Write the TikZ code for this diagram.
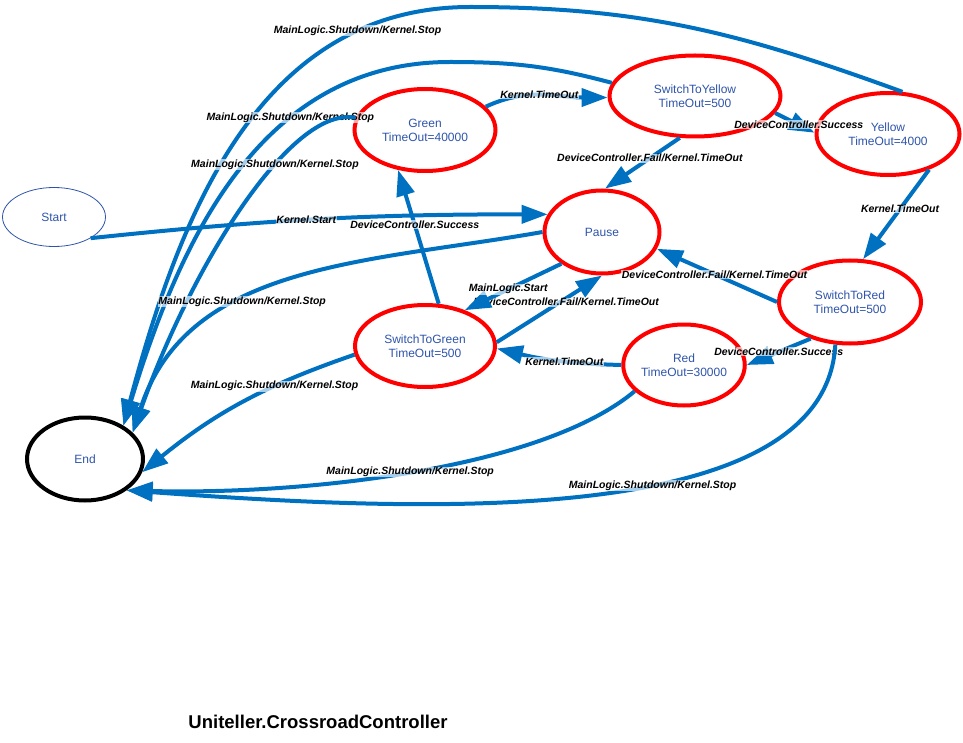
\documentclass[tikz,border=0pt]{standalone}
\usepackage{fontspec}
\setmainfont{Liberation Sans}
\usetikzlibrary{shapes.geometric,arrows.meta}
\definecolor{flecha}{RGB}{0,112,192}
\definecolor{texto}{RGB}{46,84,170}
\definecolor{borde}{RGB}{255,0,0}

\begin{document}
\begin{tikzpicture}[x=1pt, y=1pt,
  estado/.style={ellipse, draw=borde, line width=4pt, text=texto, align=center,
    inner sep=0pt, font=\fontsize{12}{14}\selectfont},
  trans/.style={draw=flecha, line width=4pt, -{Triangle[length=26pt,width=18pt]}},
  etiq/.style={font=\fontsize{10.5}{12}\selectfont\bfseries\itshape, fill=white,
    fill opacity=0.65, text opacity=1, inner sep=0.5pt}]
	\useasboundingbox (0,0) rectangle (963,-743);
	% Estados inicial y final
	\node[ellipse, draw=texto, line width=0.8pt, text=texto, inner sep=0pt,
	  minimum width=103pt, minimum height=59pt, font=\fontsize{12}{14}\selectfont]
	  (start) at (54,-217) {Start};
	\node[estado, draw=black, minimum width=116pt, minimum height=83pt] (finish) at (85,-459) {End};
	% Estados del semaforo
	\node[estado, minimum width=141pt, minimum height=82pt] (green) at (425,-130) {Green\\TimeOut=40000};
	\node[estado, minimum width=171pt, minimum height=81pt] (switchyellow) at (695,-96) {SwitchToYellow\\TimeOut=500};
	\node[estado, minimum width=143pt, minimum height=82pt] (yellow) at (888,-134) {Yellow\\TimeOut=4000};
	\node[estado, minimum width=115pt, minimum height=83pt] (pause) at (602,-232) {Pause};
	\node[estado, minimum width=142pt, minimum height=83pt] (switchred) at (850,-302) {SwitchToRed\\TimeOut=500};
	\node[estado, minimum width=117pt, minimum height=81pt] (red) at (684,-365) {Red\\TimeOut=30000};
	\node[estado, minimum width=140pt, minimum height=82pt] (switchgreen) at (425,-346) {SwitchToGreen\\TimeOut=500};
	% Titulo
	\node[font=\fontsize{18.5}{22}\selectfont\bfseries] (titulo) at (318,-722) {Uniteller.CrossroadController};
	% Puntos de paso de los arcos superiores
	\coordinate (arco1) at (470,-7);
	\coordinate (arco2) at (450,-62);

	% Transiciones del ciclo
	\draw[trans] (start.-30) to[out=6,in=180] node[etiq,pos=0.47] {Kernel.Start} (pause.162);
	\draw[trans] (green.21) to[out=25,in=180] node[etiq,pos=0.45] {Kernel.TimeOut} (switchyellow.181);
	\draw[trans] (switchyellow.-12) -- node[etiq,pos=0.6] {DeviceController.Success} (yellow.179);
	\draw[trans] (switchyellow.-110) -- node[etiq,pos=0.4] {DeviceController.Fail/Kernel.TimeOut} (pause.86);
	\draw[trans] (yellow.-41) -- node[etiq,pos=0.44] {Kernel.TimeOut} (switchred.73);
	\draw[trans] (switchred.180) -- node[etiq,pos=0.52] {DeviceController.Fail/Kernel.TimeOut} (pause.-17);
	\draw[trans] (switchred.-137) -- node[etiq,pos=0.5] {DeviceController.Success} (red.0);
	\draw[trans] (red.180) to[bend left=6] node[etiq,pos=0.45] {Kernel.TimeOut} (switchgreen.-2);
	\draw[trans] (switchgreen.72) -- node[etiq,pos=0.59] {DeviceController.Success} (green.-124);
	\draw[trans] (switchgreen.3) -- node[etiq,pos=0.66,yshift=-4pt] {DeviceController.Fail/Kernel.TimeOut} (pause.-90);
	\draw[trans] (pause.-142) -- node[etiq,pos=0.55] {MainLogic.Start} (switchgreen.42);

	% Transiciones de apagado hacia End
	\draw[trans] (yellow.71) to[out=160,in=0] (arco1)
	  to[out=180,in=75] node[etiq,pos=0.2] {MainLogic.Shutdown/Kernel.Stop} (finish.41);
	\draw[trans] (switchyellow.171) to[out=165,in=0] (arco2)
	  to[out=180,in=73] node[etiq,pos=0.34] {MainLogic.Shutdown/Kernel.Stop} (finish.41);
	\draw[trans] (green.170) .. controls (290,-105) and (190,-270) ..
	  node[etiq,pos=0.36] {MainLogic.Shutdown/Kernel.Stop} (finish.29);
	\draw[trans] (pause.180) to[out=190,in=72] node[etiq,pos=0.62] {MainLogic.Shutdown/Kernel.Stop} (finish.29);
	\draw[trans] (switchgreen.187) to[bend right=10] node[etiq,pos=0.34] {MainLogic.Shutdown/Kernel.Stop} (finish.-13);
	\draw[trans] (red.208) .. controls (540,-470) and (300,-495) ..
	  node[etiq,pos=0.5] {MainLogic.Shutdown/Kernel.Stop} (finish.-37);
	\draw[trans] (switchred.-109) .. controls (825,-535) and (400,-510) ..
	  node[etiq,pos=0.41] {MainLogic.Shutdown/Kernel.Stop} (finish.-37);
\end{tikzpicture}
\end{document}
